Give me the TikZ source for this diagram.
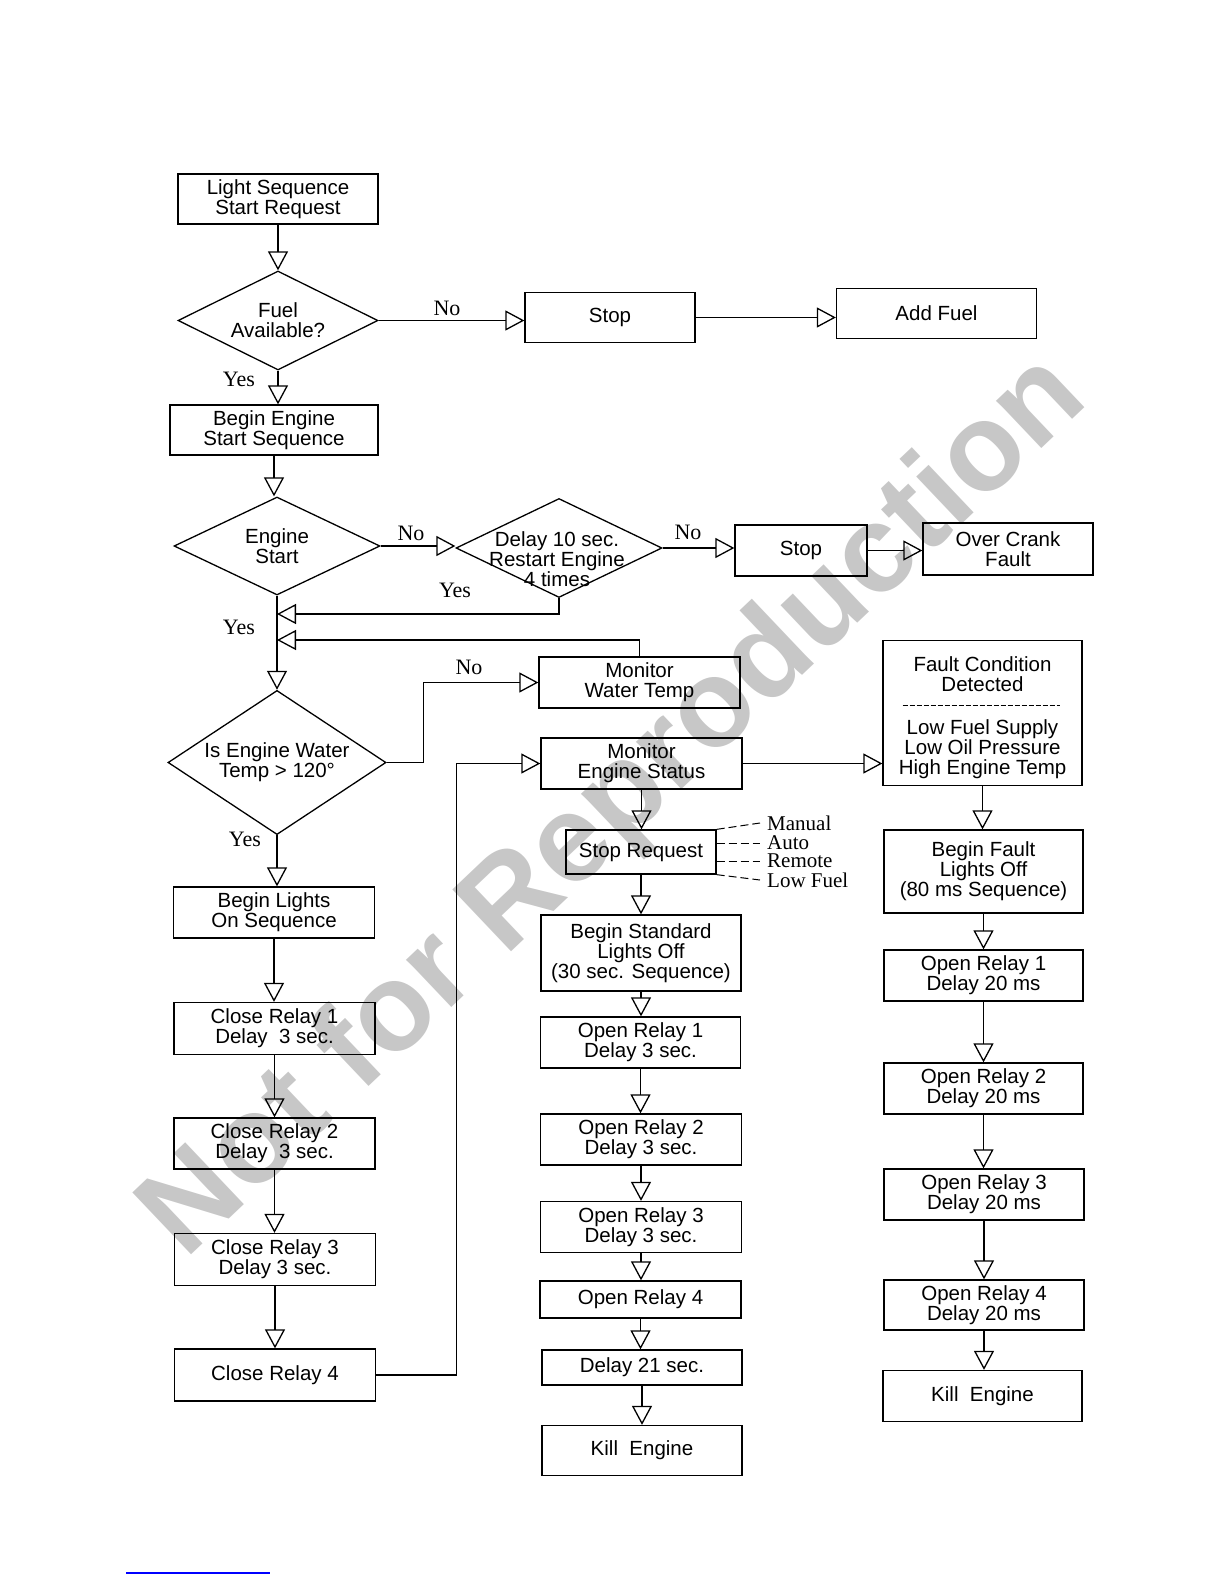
\documentclass[tikz,border=0pt]{standalone}
\usepackage{fontspec}
\setmainfont{Liberation Sans}
\newfontfamily\tmsfont{Liberation Serif}
\usepackage{tikz}
\usetikzlibrary{arrows.meta, shapes.geometric, calc}

\tikzset{
  stepbox/.style={draw, line width=1.3pt, align=center, inner sep=2pt},
  decision/.style={draw, diamond, line width=1.3pt, align=center, inner sep=-10pt},
  arr/.style={line width=1.3pt, -{Triangle[open, length=19pt, width=20pt]}},
  answer/.style={font=\tmsfont\fontsize{22}{22}\selectfont},
  cause/.style={font=\tmsfont\fontsize{21}{19}\selectfont, anchor=west, inner sep=7pt},
  cue/.style={line width=1pt, dash pattern=on 8pt off 4pt},
}

\begin{document}
\begin{tikzpicture}[x=1pt, y=-1pt, font=\fontsize{20.5}{20}\selectfont]
  \useasboundingbox (0,0) rectangle (1224,1584);
  % watermark behind the chart
  \node[rotate=43.5, text=black!22, font=\bfseries\fontsize{124}{124}\selectfont] (watermark) at (616,808) {Not for Reproduction};

  % start-up column
  \node[stepbox, minimum width=200pt, minimum height=50pt] (lightseq) at (278,199) {Light Sequence\\Start Request};
  \node[decision, minimum width=200pt, minimum height=99pt] (fuel) at (278,320.5) {Fuel\\Available?};
  \node[stepbox, minimum width=170pt, minimum height=50pt] (stopA) at (610,317.5) {Stop};
  \node[stepbox, minimum width=200pt, minimum height=50pt] (addfuel) at (936.5,313.5) {Add Fuel};
  \node[stepbox, minimum width=208pt, minimum height=50pt] (beginengine) at (274,430) {Begin Engine\\Start Sequence};
  \node[decision, minimum width=206pt, minimum height=98pt] (enginestart) at (277,546) {Engine\\Start};
  \node[decision, inner sep=0pt, minimum width=206pt, minimum height=99pt] (delay) at (559,548) {};
  \node[align=center] (delaytext) at (557,559) {Delay 10 sec.\\Restart Engine\\4 times};
  \node[stepbox, minimum width=132pt, minimum height=51pt] (stopB) at (801,550.5) {Stop};
  \node[stepbox, minimum width=170pt, minimum height=52pt] (overcrank) at (1008,549) {Over Crank\\Fault};
  \node[stepbox, minimum width=201pt, minimum height=51pt] (monwater) at (639.5,682.5) {Monitor\\Water Temp};
  \node[decision, minimum width=218pt, minimum height=107pt] (water) at (277,762.5) {Is Engine Water\\Temp > 120°};

  % lights on column
  \node[stepbox, minimum width=201pt, minimum height=51pt] (beginlights) at (274,912.5) {Begin Lights\\On Sequence};
  \node[stepbox, minimum width=201pt, minimum height=52pt] (close1) at (274.5,1028.5) {Close Relay 1\\Delay\ \ 3 sec.};
  \node[stepbox, minimum width=201pt, minimum height=51pt] (close2) at (274.5,1143.5) {Close Relay 2\\Delay\ \ 3 sec.};
  \node[stepbox, minimum width=201pt, minimum height=52pt] (close3) at (275,1259.5) {Close Relay 3\\Delay 3 sec.};
  \node[stepbox, minimum width=201pt, minimum height=52pt] (close4) at (275,1375) {Close Relay 4};

  % standard stop column
  \node[stepbox, minimum width=201pt, minimum height=51pt] (monengine) at (641.5,763.5) {Monitor\\Engine Status};
  \node[stepbox, minimum width=150pt, minimum height=44pt] (stopreq) at (641,852) {Stop Request};
  \node[stepbox, minimum width=200pt, minimum height=76pt] (beginstd) at (641,953) {Begin Standard\\Lights Off\\(30 sec. Sequence)};
  \node[stepbox, minimum width=200pt, minimum height=51pt] (openA1) at (640.5,1042.5) {Open Relay 1\\Delay 3 sec.};
  \node[stepbox, minimum width=201pt, minimum height=51pt] (openA2) at (641,1139.5) {Open Relay 2\\Delay 3 sec.};
  \node[stepbox, minimum width=201pt, minimum height=51pt] (openA3) at (641,1227) {Open Relay 3\\Delay 3 sec.};
  \node[stepbox, minimum width=201pt, minimum height=37pt] (openA4) at (640.5,1299.5) {Open Relay 4};
  \node[stepbox, minimum width=200pt, minimum height=35pt] (delaytw) at (642,1367.5) {Delay 21 sec.};
  \node[stepbox, minimum width=200pt, minimum height=50pt] (killA) at (642,1450.5) {Kill\ \ Engine};

  % fault column
  \node[stepbox, minimum width=199pt, minimum height=145pt] (faultcond) at (982.5,713) {\rule{0pt}{24pt}Fault Condition\\Detected\\[23pt]Low Fuel Supply\\Low Oil Pressure\\High Engine Temp};
  \node[stepbox, minimum width=199pt, minimum height=83pt] (beginfault) at (983.5,871.5) {Begin Fault\\Lights Off\\(80 ms Sequence)};
  \node[stepbox, minimum width=199pt, minimum height=51pt] (openB1) at (983.5,975.5) {Open Relay 1\\Delay 20 ms};
  \node[stepbox, minimum width=199pt, minimum height=51pt] (openB2) at (983.5,1088.5) {Open Relay 2\\Delay 20 ms};
  \node[stepbox, minimum width=200pt, minimum height=51pt] (openB3) at (984,1194.5) {Open Relay 3\\Delay 20 ms};
  \node[stepbox, minimum width=200pt, minimum height=50pt] (openB4) at (984,1305) {Open Relay 4\\Delay 20 ms};
  \node[stepbox, minimum width=199pt, minimum height=51pt] (killB) at (982.5,1396) {Kill\ \ Engine};
  \draw[line width=1pt, dash pattern=on 5pt off 2pt] ($(faultcond.north)+(-80,66)$) -- ($(faultcond.north)+(77,66)$);

  % yes / no answers
  \node[answer] (nofuel) at (447,308) {No};
  \node[answer] (yesfuel) at (239,379) {Yes};
  \node[answer] (nostart) at (411,533) {No};
  \node[answer] (noretry) at (688,532) {No};
  \node[answer] (yesretry) at (455,590) {Yes};
  \node[answer] (yesstart) at (239,627) {Yes};
  \node[answer] (nowater) at (469,667) {No};
  \node[answer] (yeswater) at (245,839) {Yes};

  % stop request sources
  \node[cause] (manual) at (760,823) {Manual};
  \node[cause] (auto) at (760,843) {Auto};
  \node[cause] (remote) at (760,861) {Remote};
  \node[cause] (lowfuel) at (760,880) {Low Fuel};
  \draw[cue] (stopreq.north east) -- (manual.west);
  \draw[cue] (auto.west -| stopreq.east) -- (auto.west);
  \draw[cue] (remote.west -| stopreq.east) -- (remote.west);
  \draw[cue] (stopreq.south east) -- (lowfuel.west);

  % connectors
  \coordinate (retryjoin) at (277,614);
  \coordinate (waterjoin) at (277,640);
  \draw[arr] (lightseq.south) -- (lightseq.south |- fuel.north);
  \draw[arr] (fuel.east) -- (fuel.east -| stopA.west);
  \draw[arr] (stopA.east) -- (stopA.east -| addfuel.west);
  \draw[arr] (fuel.south) -- (fuel.south |- beginengine.north);
  \draw[arr] (beginengine.south) -- (beginengine.south |- enginestart.north);
  \draw[arr] (enginestart.east) -- (enginestart.east -| delay.west);
  \draw[arr] (delay.east) -- (delay.east -| stopB.west);
  \draw[arr] (stopB.east) -- (stopB.east -| overcrank.west);
  \draw[arr] (delay.south) |- (retryjoin);
  \draw[arr] (monwater.north) |- (waterjoin);
  \draw[arr] (enginestart.south) -- (enginestart.south |- water.north);
  \draw[arr] (water.east) -- ++(37,0) |- (monwater.west);
  \draw[arr] (water.south) -- (water.south |- beginlights.north);
  \draw[arr] (beginlights.south) -- (beginlights.south |- close1.north);
  \draw[arr] (close1.south) -- (close1.south |- close2.north);
  \draw[arr] (close2.south) -- (close2.south |- close3.north);
  \draw[arr] (close3.south) -- (close3.south |- close4.north);
  \draw[arr] (close4.east) -- ++(80,0) |- (monengine.west);
  \draw[arr] (monengine.east) -- (monengine.east -| faultcond.west);
  \draw[arr] (monengine.south) -- (monengine.south |- stopreq.north);
  \draw[arr] (stopreq.south) -- (stopreq.south |- beginstd.north);
  \draw[arr] (beginstd.south) -- (beginstd.south |- openA1.north);
  \draw[arr] (openA1.south) -- (openA1.south |- openA2.north);
  \draw[arr] (openA2.south) -- (openA2.south |- openA3.north);
  \draw[arr] (openA3.south) -- (openA3.south |- openA4.north);
  \draw[arr] (openA4.south) -- (openA4.south |- delaytw.north);
  \draw[arr] (delaytw.south) -- (delaytw.south |- killA.north);
  \draw[arr] (faultcond.south) -- (faultcond.south |- beginfault.north);
  \draw[arr] (beginfault.south) -- (beginfault.south |- openB1.north);
  \draw[arr] (openB1.south) -- (openB1.south |- openB2.north);
  \draw[arr] (openB2.south) -- (openB2.south |- openB3.north);
  \draw[arr] (openB3.south) -- (openB3.south |- openB4.north);
  \draw[arr] (openB4.south) -- (openB4.south |- killB.north);

  % rule at the foot of the page
  \draw[blue, line width=1.2pt] (126,1573) -- (270,1573);
\end{tikzpicture}
\end{document}
